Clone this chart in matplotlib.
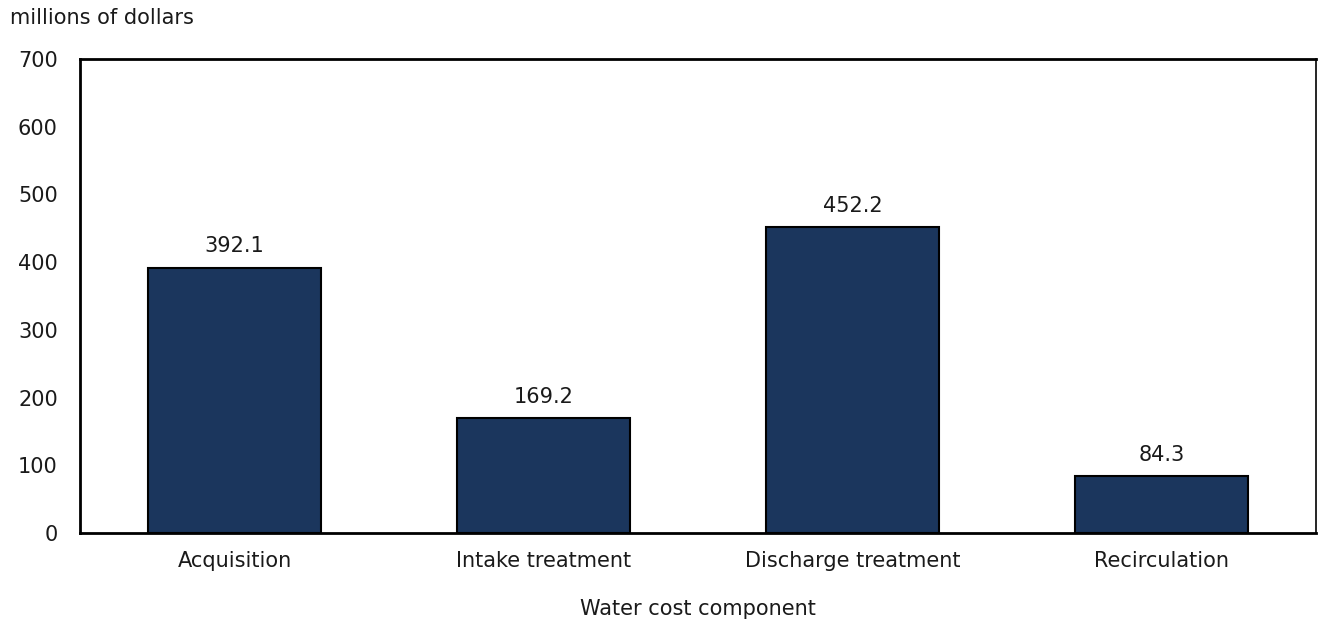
import matplotlib
matplotlib.use("Agg")
import matplotlib.pyplot as plt

categories = ["Acquisition", "Intake treatment", "Discharge treatment", "Recirculation"]
values = [392.1, 169.2, 452.2, 84.3]
y_ticks = [0, 100, 200, 300, 400, 500, 600, 700]

plt.rcParams["font.family"] = ["DejaVu Sans"]
fig = plt.figure(figsize=(13.18, 6.22), dpi=100)
ax = fig.add_axes([0.0607, 0.1431, 0.9378, 0.762])

fs = 15
x = range(len(categories))
ax.bar(x, values, width=0.557, color="#1b365d", edgecolor="black", linewidth=1.5, zorder=2)
for xi, v in zip(x, values):
    ax.annotate(f"{v:.1f}", (xi, v), xytext=(0, 8), textcoords="offset points",
                ha="center", va="bottom", fontsize=fs, color="#1a1a1a")

ax.set_xlim(-0.5, len(categories) - 0.5)
ax.set_ylim(0, 700)
ax.set_yticks(y_ticks)
ax.set_xticks(list(x))
ax.set_xticklabels(categories)
ax.tick_params(axis="both", length=0, labelsize=fs, colors="#1a1a1a")
ax.tick_params(axis="y", pad=16)
ax.tick_params(axis="x", pad=13)
for side in ["left", "bottom", "top"]:
    ax.spines[side].set_linewidth(2)
ax.spines["right"].set_linewidth(1.2)

ax.set_xlabel("Water cost component", fontsize=fs, color="#1a1a1a", labelpad=20)
fig.text(10 / 1318, 1 - 18 / 622, "millions of dollars", fontsize=fs, color="#1a1a1a",
         ha="left", va="center")

fig.savefig("out.png", dpi=100)
